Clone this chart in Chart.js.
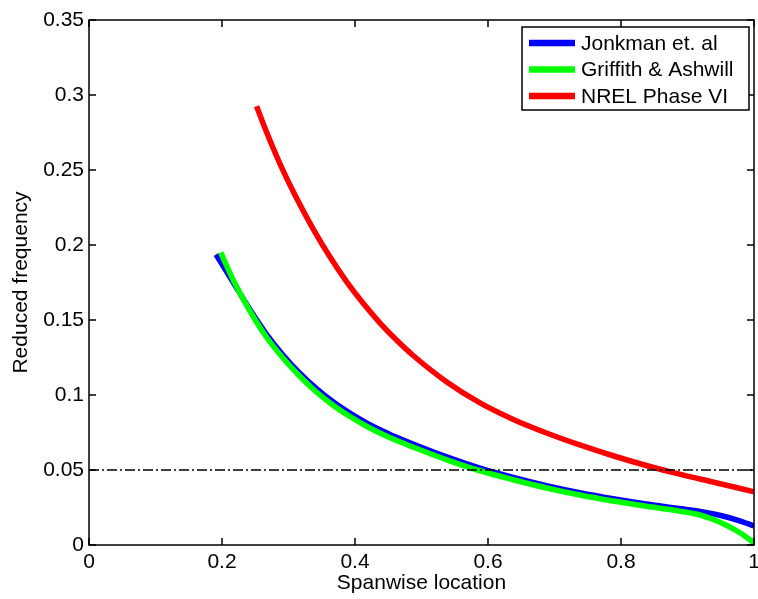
<!DOCTYPE html>
<html>
<head>
<meta charset="utf-8">
<title>Reduced frequency</title>
<script src="https://cdn.jsdelivr.net/npm/chart.js@4"></script>
<style>
  body { margin: 0; background: #fff; }
  #wrap { width: 758px; height: 599px; }
</style>
</head>
<body>
<div id="wrap"><canvas id="freqChart" width="758" height="599"></canvas></div>
<script>
// values
const jonkmanX = [0.191, 0.217, 0.242, 0.267, 0.292, 0.317, 0.342, 0.367, 0.393, 0.418, 0.443, 0.468, 0.493, 0.538, 0.588, 0.638, 0.688, 0.738, 0.788, 0.838, 0.888, 0.919, 0.95, 0.975, 1.0];
const jonkmanY = [0.1937, 0.175, 0.157, 0.1405, 0.1265, 0.1145, 0.1043, 0.0955, 0.0877, 0.0812, 0.0757, 0.0708, 0.0663, 0.0587, 0.0512, 0.045, 0.0395, 0.0348, 0.0308, 0.0273, 0.0243, 0.0224, 0.0197, 0.0166, 0.0127];

const griffithX = [0.198, 0.217, 0.242, 0.267, 0.292, 0.317, 0.342, 0.367, 0.393, 0.418, 0.443, 0.468, 0.493, 0.538, 0.588, 0.638, 0.688, 0.738, 0.788, 0.838, 0.888, 0.919, 0.94, 0.96, 0.98, 1.0];
const griffithY = [0.195, 0.1765, 0.156, 0.1385, 0.1245, 0.1125, 0.102, 0.0932, 0.0855, 0.079, 0.0735, 0.0687, 0.0643, 0.0568, 0.0495, 0.0435, 0.038, 0.0333, 0.0293, 0.0258, 0.0226, 0.02, 0.0168, 0.0128, 0.0078, 0.0015];

const nrelX = [0.252, 0.267, 0.287, 0.312, 0.337, 0.362, 0.387, 0.412, 0.437, 0.462, 0.487, 0.538, 0.588, 0.638, 0.688, 0.738, 0.788, 0.838, 0.888, 0.938, 1.0];
const nrelY = [0.2925, 0.2753, 0.2543, 0.2313, 0.2108, 0.1923, 0.1758, 0.1613, 0.1483, 0.1368, 0.1265, 0.1087, 0.0947, 0.0837, 0.0747, 0.0667, 0.0595, 0.053, 0.0472, 0.042, 0.0355];

const cutoffX = [0, 1];
const cutoffY = [0.05, 0.05];

const seriesNames = ["Jonkman et. al", "Griffith & Ashwill", "NREL Phase VI"];
const xTicks = [0, 0.2, 0.4, 0.6, 0.8, 1];
const yTicks = [0, 0.05, 0.1, 0.15, 0.2, 0.25, 0.3, 0.35];

function toPoints(xs, ys) {
    return xs.map((x, i) => ({ x: x, y: ys[i] }));
}

// box, inward ticks and the legend inside the plot
const framePlugin = {
    id: "frame",
    afterDatasetsDraw(chart) {
        const ctx = chart.ctx;
        const a = chart.chartArea;
        const sx = chart.scales.x;
        const sy = chart.scales.y;
        const tl = 7;
        ctx.save();
        ctx.strokeStyle = "#000";
        ctx.lineWidth = 1.5;
        ctx.strokeRect(a.left, a.top, a.right - a.left, a.bottom - a.top);
        ctx.beginPath();
        xTicks.forEach(v => {
            const px = sx.getPixelForValue(v);
            ctx.moveTo(px, a.bottom); ctx.lineTo(px, a.bottom - tl);
            ctx.moveTo(px, a.top); ctx.lineTo(px, a.top + tl);
        });
        yTicks.forEach(v => {
            const py = sy.getPixelForValue(v);
            ctx.moveTo(a.left, py); ctx.lineTo(a.left + tl, py);
            ctx.moveTo(a.right, py); ctx.lineTo(a.right - tl, py);
        });
        ctx.stroke();

        // legend
        const boxW = 227, boxH = 83;
        const bx = a.right - 5 - boxW;
        const by = a.top + 7;
        ctx.fillStyle = "#fff";
        ctx.fillRect(bx, by, boxW, boxH);
        ctx.lineWidth = 1.5;
        ctx.strokeRect(bx, by, boxW, boxH);
        ctx.font = "21px 'Liberation Sans', Arial, sans-serif";
        ctx.textBaseline = "middle";
        ctx.textAlign = "left";
        chart.data.datasets.filter(d => d.inLegend).forEach((d, i) => {
            const ry = by + 16 + i * 26.5;
            ctx.strokeStyle = d.borderColor;
            ctx.lineWidth = 6.5;
            ctx.beginPath();
            ctx.moveTo(bx + 7, ry); ctx.lineTo(bx + 53, ry);
            ctx.stroke();
            ctx.fillStyle = "#000";
            ctx.fillText(d.label, bx + 59, ry + 1);
        });
        ctx.restore();
    }
};

document.addEventListener("DOMContentLoaded", function () {
    const ctx = document.getElementById("freqChart").getContext("2d");
    Chart.defaults.font.family = "'Liberation Sans', Arial, sans-serif";
    Chart.defaults.font.size = 21;
    Chart.defaults.color = "#000";

    const lineStyle = {
        borderWidth: 5.5,
        pointRadius: 0,
        fill: false,
        cubicInterpolationMode: "monotone"
    };

    new Chart(ctx, {
        type: "line",
        data: {
            datasets: [
                Object.assign({ label: seriesNames[0], data: toPoints(jonkmanX, jonkmanY), borderColor: "#0000ff", order: 3, inLegend: true }, lineStyle),
                Object.assign({ label: seriesNames[1], data: toPoints(griffithX, griffithY), borderColor: "#00ff00", order: 2, inLegend: true }, lineStyle),
                Object.assign({ label: seriesNames[2], data: toPoints(nrelX, nrelY), borderColor: "#ff0000", order: 4, inLegend: true }, lineStyle),
                {
                    label: "cutoff",
                    data: toPoints(cutoffX, cutoffY),
                    borderColor: "#000",
                    borderWidth: 1.5,
                    borderDash: [10, 3, 2, 3],
                    pointRadius: 0,
                    fill: false,
                    order: 1,
                    inLegend: false
                }
            ]
        },
        options: {
            responsive: false,
            animation: false,
            layout: { padding: { top: 20, right: 4, left: 0, bottom: 0 } },
            plugins: {
                legend: { display: false },
                tooltip: { enabled: false }
            },
            scales: {
                x: {
                    type: "linear",
                    min: 0,
                    max: 1,
                    afterBuildTicks: s => { s.ticks = xTicks.map(v => ({ value: v })); },
                    afterFit: s => { s.height = 54; s.paddingRight = 0; s.paddingLeft = 0; },
                    grid: { display: false, drawTicks: false },
                    border: { display: false },
                    ticks: { padding: 5, maxRotation: 0, callback: v => String(v) },
                    title: { display: true, text: "Spanwise location", padding: { top: 0, bottom: 3 } }
                },
                y: {
                    type: "linear",
                    min: 0,
                    max: 0.35,
                    afterBuildTicks: s => { s.ticks = yTicks.map(v => ({ value: v })); },
                    afterFit: s => { s.width = 89; s.paddingTop = 0; s.paddingBottom = 0; },
                    grid: { display: false, drawTicks: false },
                    border: { display: false },
                    ticks: { padding: 5, callback: v => String(v) },
                    title: { display: true, text: "Reduced frequency", padding: { top: 9, bottom: 0 } }
                }
            }
        },
        plugins: [framePlugin]
    });
});
</script>
</body>
</html>
